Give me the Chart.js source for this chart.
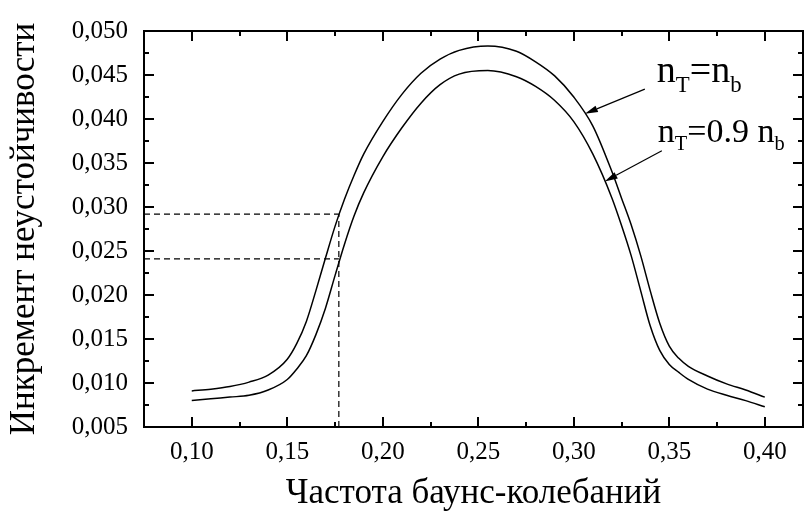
<!DOCTYPE html>
<html>
<head>
<meta charset="utf-8">
<script src="https://cdn.jsdelivr.net/npm/chart.js@4.4.0/dist/chart.umd.min.js"></script>
<style>
  html, body { margin: 0; padding: 0; background: #fff; }
</style>
</head>
<body>
<canvas id="js--chart" width="806" height="515"></canvas>
<script>
// bounce frequency grid and instability increment for both densities
const freq = [0.100, 0.110, 0.120, 0.130, 0.140, 0.150, 0.155, 0.160, 0.165, 0.170,
  0.175, 0.180, 0.185, 0.190, 0.200, 0.210, 0.220, 0.230, 0.240, 0.255,
  0.270, 0.280, 0.290, 0.300, 0.310, 0.320, 0.325, 0.330, 0.335, 0.340,
  0.345, 0.350, 0.355, 0.360, 0.370, 0.380, 0.390, 0.400];

const incEqual = [0.0091, 0.0093, 0.0096, 0.0101, 0.0109, 0.0127, 0.0145, 0.0170, 0.0205, 0.0242,
  0.0278, 0.0309, 0.0336, 0.0360, 0.0397, 0.0428, 0.0452, 0.0468, 0.0478, 0.0483,
  0.0477, 0.0465, 0.0449, 0.0425, 0.0392, 0.0340, 0.0310, 0.0280, 0.0245, 0.0205,
  0.0168, 0.0142, 0.0128, 0.0119, 0.0108, 0.0099, 0.0092, 0.0084];

const incNinety = [0.0080, 0.0082, 0.0084, 0.0086, 0.0092, 0.0104, 0.0116, 0.0131, 0.0155, 0.0185,
  0.0222, 0.0258, 0.0290, 0.0316, 0.0357, 0.0390, 0.0418, 0.0439, 0.0451, 0.0455,
  0.0448, 0.0437, 0.0421, 0.0397, 0.0360, 0.0310, 0.0279, 0.0245, 0.0205, 0.0165,
  0.0137, 0.0121, 0.0112, 0.0104, 0.0093, 0.0086, 0.0080, 0.0073];

const xTicks = [0.10, 0.15, 0.20, 0.25, 0.30, 0.35, 0.40];
const yTicks = [0.005, 0.010, 0.015, 0.020, 0.025, 0.030, 0.035, 0.040, 0.045, 0.050];

// reading at f = 0.177 for both curves
const markX = 0.177;
const markY = [0.0292, 0.0241];

const xMin = 0.075, xMax = 0.42;
const yMin = 0.005, yMax = 0.050;

const FONT = '"Liberation Serif", "Times New Roman", serif';
Chart.defaults.font.family = FONT;
Chart.defaults.color = "#000";

function pts(ys) {
  return freq.map((f, i) => ({ x: f, y: ys[i] }));
}

function valueAt(ys, f) {
  for (let i = 0; i < freq.length - 1; i++) {
    if (f >= freq[i] && f <= freq[i + 1]) {
      const t = (f - freq[i]) / (freq[i + 1] - freq[i]);
      return ys[i] + t * (ys[i + 1] - ys[i]);
    }
  }
  return ys[ys.length - 1];
}

const dashed = {
  borderColor: "#000",
  borderWidth: 1.2,
  borderDash: [6, 4],
  pointRadius: 0,
  showLine: true,
  fill: false,
};

const curve = {
  borderColor: "#000",
  borderWidth: 1.5,
  pointRadius: 0,
  showLine: true,
  fill: false,
  cubicInterpolationMode: "monotone",
};

// frame on four sides with inward ticks
const framePlugin = {
  id: "frame",
  afterDraw(chart) {
    const { ctx, chartArea: a, scales } = chart;
    const xs = scales.x, ys = scales.y;
    ctx.save();
    ctx.strokeStyle = "#000";
    ctx.lineWidth = 2;
    ctx.strokeRect(a.left, a.top, a.right - a.left, a.bottom - a.top);
    ctx.lineWidth = 2;
    const tick = (x1, y1, x2, y2) => {
      ctx.beginPath();
      ctx.moveTo(x1, y1);
      ctx.lineTo(x2, y2);
      ctx.stroke();
    };
    xTicks.forEach((v, i) => {
      const px = Math.round(xs.getPixelForValue(v));
      tick(px, a.bottom, px, a.bottom - 10);
      tick(px, a.top, px, a.top + 10);
      if (i < xTicks.length - 1) {
        const mx = Math.round(xs.getPixelForValue((v + xTicks[i + 1]) / 2));
        tick(mx, a.bottom, mx, a.bottom - 5);
        tick(mx, a.top, mx, a.top + 5);
      }
    });
    yTicks.forEach((v, i) => {
      const py = Math.round(ys.getPixelForValue(v));
      tick(a.left, py, a.left + 10, py);
      tick(a.right, py, a.right - 10, py);
      if (i < yTicks.length - 1) {
        const my = Math.round(ys.getPixelForValue((v + yTicks[i + 1]) / 2));
        tick(a.left, my, a.left + 5, my);
        tick(a.right, my, a.right - 5, my);
      }
    });
    ctx.restore();
  },
};

// curve labels with arrows
const labelPlugin = {
  id: "curveLabels",
  afterDraw(chart) {
    const { ctx, scales } = chart;
    const X = (v) => scales.x.getPixelForValue(v);
    const Y = (v) => scales.y.getPixelForValue(v);

    function text(parts, x, y, size) {
      let cx = x;
      ctx.textBaseline = "alphabetic";
      ctx.textAlign = "left";
      parts.forEach((p) => {
        const fs = p.sub ? size * 0.6 : size;
        ctx.font = fs + "px " + FONT;
        ctx.fillText(p.t, cx, p.sub ? y + size * 0.25 : y);
        cx += ctx.measureText(p.t).width;
      });
    }

    function arrow(x1, y1, x2, y2) {
      const ang = Math.atan2(y2 - y1, x2 - x1);
      const len = 13, half = 3.5;
      ctx.beginPath();
      ctx.moveTo(x1, y1);
      ctx.lineTo(x2 - Math.cos(ang) * len, y2 - Math.sin(ang) * len);
      ctx.lineWidth = 1.2;
      ctx.stroke();
      ctx.beginPath();
      ctx.moveTo(x2, y2);
      ctx.lineTo(x2 - Math.cos(ang) * len - Math.sin(ang) * half, y2 - Math.sin(ang) * len + Math.cos(ang) * half);
      ctx.lineTo(x2 - Math.cos(ang) * len + Math.sin(ang) * half, y2 - Math.sin(ang) * len - Math.cos(ang) * half);
      ctx.closePath();
      ctx.fill();
    }

    ctx.save();
    ctx.fillStyle = "#000";
    ctx.strokeStyle = "#000";

    text([{ t: "n" }, { t: "T", sub: true }, { t: "=n" }, { t: "b", sub: true }], X(0.3435), Y(0.0442), 38);
    text([{ t: "n" }, { t: "T", sub: true }, { t: "=0.9 n" }, { t: "b", sub: true }], X(0.344), Y(0.0374), 34);

    arrow(X(0.3372), Y(0.0434), X(0.3058), Y(valueAt(incEqual, 0.3058)));
    arrow(X(0.3461), Y(0.0364), X(0.3162), Y(valueAt(incNinety, 0.3162)));
    ctx.restore();
  },
};

const data = {
  datasets: [
    { ...curve, label: "nT=nb", data: pts(incEqual) },
    { ...curve, label: "nT=0.9 nb", data: pts(incNinety) },
    { ...dashed, label: "f", data: [{ x: markX, y: yMin }, { x: markX, y: markY[0] }] },
    { ...dashed, label: "g1", data: [{ x: xMin, y: markY[0] }, { x: markX, y: markY[0] }] },
    { ...dashed, label: "g2", data: [{ x: xMin, y: markY[1] }, { x: markX, y: markY[1] }] },
  ],
};

const config = {
  type: "scatter",
  data: data,
  options: {
    responsive: false,
    animation: false,
    devicePixelRatio: 1,
    layout: { padding: { top: 21, right: 3, left: 0, bottom: 0 } },
    plugins: { legend: { display: false }, tooltip: { enabled: false } },
    scales: {
      x: {
        type: "linear",
        min: xMin,
        max: xMax,
        grid: { display: false, drawTicks: false },
        border: { display: false },
        afterBuildTicks: (s) => { s.ticks = xTicks.map((v) => ({ value: v })); },
        afterFit: (s) => { s.height = 88; },
        ticks: {
          padding: 10,
          maxRotation: 0,
          font: { size: 25 },
          callback: (v) => v.toFixed(2).replace(".", ","),
        },
        title: {
          display: true,
          text: "Частота баунс-колебаний",
          font: { size: 35 },
          padding: { top: 0, bottom: 0 },
        },
      },
      y: {
        type: "linear",
        min: yMin,
        max: yMax,
        grid: { display: false, drawTicks: false },
        border: { display: false },
        afterBuildTicks: (s) => { s.ticks = yTicks.map((v) => ({ value: v })); },
        afterFit: (s) => { s.width = 144; },
        ticks: {
          padding: 16,
          font: { size: 25 },
          callback: (v) => v.toFixed(3).replace(".", ","),
        },
        title: {
          display: true,
          text: "Инкремент неустойчивости",
          font: { size: 35 },
          padding: { top: 4, bottom: 0 },
        },
      },
    },
  },
  plugins: [framePlugin, labelPlugin],
};

new Chart(document.getElementById("js--chart"), config);
</script>
</body>
</html>
